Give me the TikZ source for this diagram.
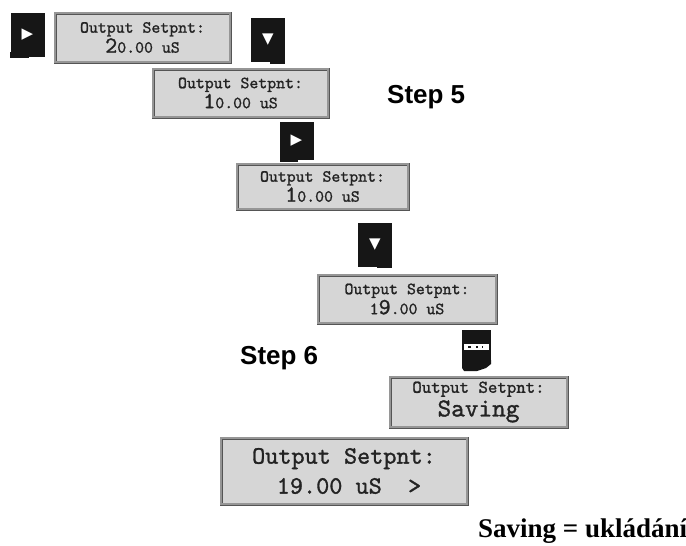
\documentclass[tikz,border=0pt]{standalone}
\usepackage{fontspec}
\newfontfamily\stepf{Liberation Sans}
\newfontfamily\symf{DejaVu Sans}
\setmainfont{Liberation Serif}
\newfontfamily\lcdf[FakeBold=1.2]{lmmono10-regular.otf}
\definecolor{lcdfill}{RGB}{214,214,214}
\definecolor{lcdedge}{RGB}{85,85,85}
\definecolor{lcdband}{RGB}{150,150,150}
\definecolor{lcdtext}{RGB}{35,35,35}
\definecolor{keyblack}{RGB}{22,22,22}
\tikzset{
  lcd/.style={rectangle, fill=lcdfill, draw=lcdedge, line width=0.7pt,
    double=lcdband, double distance=1.6pt, inner sep=0pt, align=center,
    text=lcdtext, font=\lcdf\fontsize{17}{19}\selectfont},
  keybox/.style={rectangle, fill=keyblack, draw=none, inner sep=0pt,
    minimum width=34pt, minimum height=44pt, text=white,
    font=\symf\fontsize{15}{15}\selectfont},
  steplabel/.style={font=\stepf\bfseries\fontsize{26}{26}\selectfont, inner sep=0pt},
}
\newcommand{\bigc}[1]{{\fontsize{23}{19}\selectfont #1}}
\begin{document}
\begin{tikzpicture}[x=1pt,y=-1pt]
\useasboundingbox (0,0) rectangle (686,546);
\fill[white] (0,0) rectangle (686,546);

% keys
\node[keybox] (k1) at (27.5,34.5) {▶};
\fill[keyblack] (10,52) rectangle (29,58);
\node[keybox] (k2) at (268,39.5) {▼};
\fill[keyblack] (270,58) rectangle (285,64);
\node[keybox, minimum height=38pt] (k3) at (296.5,141) {▶};
\fill[keyblack] (280,155) rectangle (298,162);
\node[keybox] (k4) at (375,244.5) {▼};
\fill[keyblack] (377,262) rectangle (392,268);
\node[keybox, minimum width=29pt, minimum height=34pt] (k5) at (476.5,347) {};
\fill[keyblack] (462,360) -- (491,360) -- (491,364) -- (486,368) -- (477,371) -- (464,371) -- (462,368) -- cycle;
\fill[white] (463.5,344) rectangle (489,350);
\fill[keyblack] (468,346) rectangle (471,348);
\fill[keyblack] (476,346) rectangle (478,348);
\fill[keyblack] (482,346) rectangle (483,348);

% displays
\node[lcd, minimum width=175pt, minimum height=49pt] (d1) at (142.5,37.5)
  {Output Setpnt:\\[1pt]\bigc{2}0.00 uS};
\node[lcd, minimum width=175pt, minimum height=48pt] (d2) at (240.5,93)
  {Output Setpnt:\\[1pt]\bigc{1}0.00 uS};
\node[lcd, minimum width=171pt, minimum height=45pt] (d3) at (322.5,186.5)
  {Output Setpnt:\\[1pt]\bigc{1}0.00 uS};
\node[lcd, minimum width=178pt, minimum height=48pt] (d4) at (407,299)
  {Output Setpnt:\\[1pt]1\bigc{9}.00 uS};
\node[lcd, minimum width=177pt, minimum height=50pt,
  font=\lcdf\fontsize{18}{19}\selectfont] (d5) at (478.5,402)
  {Output Setpnt:\\[2.5pt]{\fontsize{26}{19}\selectfont Saving}};
\node[lcd, minimum width=246pt, minimum height=66pt,
  font=\lcdf\fontsize{25}{30}\selectfont] (d6) at (344,471)
  {Output Setpnt:\\\hspace*{10pt}19.00 uS\ \ >};

% labels
\node[steplabel, anchor=west] (s5) at (387,97) {Step 5};
\node[steplabel, anchor=west] (s6) at (240,358) {Step 6};
\node[font=\bfseries\fontsize{27}{27}\selectfont, inner sep=0pt, anchor=base west] (note) at (478,537) {Saving = ukládání};
\end{tikzpicture}
\end{document}
